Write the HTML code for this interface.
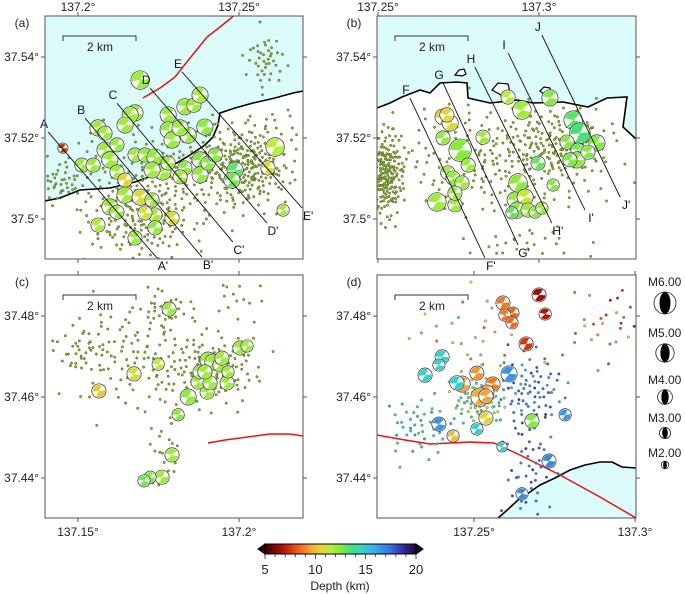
<!DOCTYPE html>
<html><head><meta charset="utf-8">
<style>
html,body{margin:0;padding:0;background:#fff;}
svg{display:block;font-family:"Liberation Sans",sans-serif;}
</style></head>
<body>
<svg id="fig" width="685" height="594" viewBox="0 0 685 594" xmlns="http://www.w3.org/2000/svg">
</svg>
<script>
// ---------- DATA ----------
// beachballs: [lon, lat, magnitude, depthKm]
const ballsA = [
 [137.2193,37.5343,4.4,12.0],[137.1953,37.5175,2.3,7.5],
 [137.2177,37.5262,3.8,12.0],[137.2162,37.5257,3.8,12.0],[137.2146,37.5232,3.8,12.0],
 [137.2332,37.5277,3.8,12.0],[137.2360,37.5281,3.3,12.0],[137.2379,37.5306,3.8,11.8],
 [137.2280,37.5257,3.8,12.0],[137.2280,37.5220,3.8,12.2],[137.2394,37.5227,3.8,12.3],
 [137.2292,37.5195,3.8,12.0],[137.2342,37.5207,3.8,12.0],[137.2317,37.5225,3.8,12.0],
 [137.2062,37.5225,3.8,12.0],[137.2084,37.5212,3.3,12.0],[137.2084,37.5170,3.8,12.0],
 [137.2099,37.5146,3.8,12.0],[137.2121,37.5183,3.3,12.2],[137.2177,37.5158,3.3,12.0],
 [137.2208,37.5158,3.3,12.0],[137.2239,37.5153,3.8,12.2],[137.2264,37.5116,3.8,12.0],
 [137.2230,37.5121,3.8,12.0],[137.2280,37.5138,3.3,12.0],[137.2332,37.5126,3.3,12.3],
 [137.2317,37.5104,3.3,12.0],[137.2379,37.5146,3.8,12.5],[137.2379,37.5109,3.8,12.2],
 [137.2404,37.5138,3.3,12.4],[137.2488,37.5121,3.8,13.2],[137.2478,37.5096,3.8,12.8],
 [137.2426,37.5158,3.3,12.5],[137.2612,37.5178,4.4,11.5],[137.2590,37.5126,3.3,11.0],
 [137.2637,37.5022,2.8,12.0],[137.2012,37.5133,3.3,12.0],[137.2047,37.5133,3.3,12.0],
 [137.2121,37.5116,3.3,12.0],[137.2146,37.5096,3.3,10.5],[137.2146,37.5059,3.8,12.0],
 [137.2193,37.5054,3.8,10.8],[137.2230,37.5047,3.3,12.0],[137.2239,37.5010,3.3,12.0],
 [137.2099,37.5030,3.8,12.0],[137.2121,37.5017,3.3,12.0],[137.2208,37.5015,3.3,11.0],
 [137.2292,37.5002,3.3,10.8],[137.2239,37.4978,3.3,12.2],[137.2062,37.4985,3.3,11.8],
 [137.2177,37.4953,3.3,12.0]
];
const ballsB = [
 [137.2702,37.5252,3.8,10.2],[137.2724,37.5237,3.8,10.6],[137.2714,37.5257,3.3,10.5],
 [137.2702,37.5200,3.3,12.2],[137.2755,37.5170,5.4,12.5],[137.2826,37.5202,3.3,12.0],
 [137.2780,37.5133,3.3,12.0],[137.2717,37.5114,3.3,12.0],[137.2733,37.5101,3.3,12.2],
 [137.2761,37.5089,3.3,12.0],[137.2683,37.5042,4.4,12.0],[137.2739,37.5035,3.3,12.0],
 [137.2739,37.5064,3.3,12.0],[137.2904,37.5301,3.3,11.5],[137.2947,37.5269,4.4,12.0],
 [137.2935,37.5089,4.4,12.3],[137.2926,37.5047,3.8,12.2],[137.2957,37.5054,3.8,11.2],
 [137.2932,37.5022,3.8,12.5],[137.2966,37.5022,3.3,12.0],[137.2988,37.5017,2.8,12.3],
 [137.3009,37.5027,2.8,12.0],[137.2916,37.5015,2.8,13.0],[137.3034,37.5299,3.8,12.5],
 [137.2997,37.5138,3.3,13.0],[137.3044,37.5084,2.8,12.5],[137.3106,37.5244,4.4,13.2],
 [137.3127,37.5212,4.9,13.4],[137.3087,37.5190,3.3,12.5],[137.3121,37.5170,3.3,12.8],
 [137.3180,37.5188,3.8,12.5],[137.3118,37.5146,3.8,12.3],[137.3152,37.5165,3.3,12.5],
 [137.3096,37.5146,3.3,12.6]
];
const ballsC = [
 [137.1783,37.4817,3.3,12.0],[137.1749,37.4681,2.8,11.5],[137.1674,37.4657,3.3,11.0],
 [137.1565,37.4615,3.3,10.3],[137.1811,37.4556,2.8,12.5],[137.1792,37.4457,3.3,12.0],
 [137.1761,37.4402,3.3,12.0],[137.1724,37.4402,2.8,12.5],[137.1705,37.4393,2.8,12.8],
 [137.1842,37.4600,3.8,12.3],[137.1901,37.4612,3.3,12.0],[137.1873,37.4637,3.3,12.0],
 [137.1910,37.4635,3.3,12.0],[137.1963,37.4635,3.3,12.0],[137.1879,37.4662,3.3,12.2],
 [137.1904,37.4691,3.8,12.0],[137.1919,37.4686,3.8,12.0],[137.1941,37.4679,3.3,12.0],
 [137.1947,37.4696,3.3,12.0],[137.1966,37.4662,2.8,12.0],[137.2003,37.4721,3.3,12.0],
 [137.2025,37.4726,2.8,12.0],[137.1894,37.4662,3.3,12.0]
];
const ballsD = [
 [137.2590,37.4832,3.3,8.8],[137.2621,37.4807,2.8,8.5],[137.2596,37.4802,2.8,8.8],
 [137.2618,37.4783,2.8,8.5],[137.2702,37.4852,3.3,6.5],[137.2721,37.4805,2.8,6.8],
 [137.2662,37.4731,3.3,7.5],[137.2401,37.4699,3.3,14.6],[137.2391,37.4679,2.8,14.8],
 [137.2348,37.4654,3.3,14.6],[137.2509,37.4659,3.3,9.2],[137.2463,37.4632,3.8,9.5],
 [137.2447,37.4635,3.3,14.8],[137.2609,37.4657,3.8,16.5],[137.2559,37.4632,3.3,8.8],
 [137.2540,37.4612,3.3,9.5],[137.2519,37.4600,4.4,9.6],[137.2537,37.4602,3.3,9.5],
 [137.2537,37.4548,3.3,10.5],[137.2509,37.4521,2.8,14.8],[137.2391,37.4533,3.3,16.5],
 [137.2435,37.4504,2.8,10.0],[137.2587,37.4477,2.3,14.8],[137.2680,37.4541,3.3,12.5],
 [137.2783,37.4556,2.8,16.5],[137.2733,37.4442,3.3,16.8],[137.2649,37.4361,2.8,16.8]
];
// dot clusters: [lonCenter, latCenter, count, sdLon, sdLat, depthCenter, depthSpread]
const dotsA = [
 [137.2286,37.5110,260,0.018,0.0060,11.8,1],[137.2519,37.5130,170,0.006,0.0045,12.3,1],
 [137.2581,37.5393,40,0.003,0.0035,11.5,1],[137.2193,37.4985,130,0.009,0.0040,11.5,1],
 [137.1944,37.5090,30,0.003,0.0025,12,1],[137.2600,37.5180,60,0.010,0.0060,11.8,1]
];
const dotsB = [
 [137.2522,37.5109,200,0.003,0.0055,11.5,1],[137.2879,37.5150,250,0.018,0.0065,12,1],
 [137.3065,37.5185,110,0.007,0.0045,12.3,1],[137.2950,37.4940,25,0.010,0.0020,10.5,1]
];
const dotsC = [
 [137.1910,37.4667,130,0.008,0.0045,12,0.8],[137.1662,37.4704,100,0.010,0.0070,12,0.8],
 [137.1506,37.4716,30,0.004,0.0030,12,0.8],[137.1770,37.4815,30,0.004,0.0030,12,0.8],
 [137.1770,37.4469,20,0.003,0.0050,12,0.8],[137.1988,37.4840,15,0.005,0.0030,11.5,0.8]
];
const dotsD = [
 [137.2519,37.4593,80,0.004,0.0030,13,3],[137.2674,37.4617,80,0.006,0.0050,17,1.5],
 [137.2332,37.4526,50,0.006,0.0040,15,1.5],[137.2674,37.4429,50,0.004,0.0080,17.5,1],
 [137.2891,37.4765,20,0.006,0.0050,9,1.5],[137.2488,37.4741,30,0.010,0.0060,11,3],
 [137.2950,37.4830,8,0.004,0.0030,7,1]
];
// profile lines: [label, lonStart, latStart, lonEnd, latEnd]
const profA = [
 ["A",137.1907,37.5215,137.2245,37.4904],["B",137.2022,37.5249,137.2385,37.4906],
 ["C",137.2121,37.5286,137.2481,37.4943],["D",137.2224,37.5323,137.2587,37.4990],
 ["E",137.2323,37.5363,137.2696,37.5027]
];
const profB = [
 ["F",137.2599,37.5299,137.2832,37.4904],["G",137.2702,37.5336,137.2935,37.4936],
 ["H",137.2801,37.5375,137.3040,37.4990],["I",137.2904,37.5410,137.3143,37.5022],
 ["J",137.3009,37.5454,137.3252,37.5054]
];
const legendMags = [6,5,4,3,2];
const cbTicks = [5,10,15,20];

// ---------- SETUP ----------
const NS="http://www.w3.org/2000/svg";
const svg=document.getElementById('fig');
function mk(tag,attrs,parent){const e=document.createElementNS(NS,tag);for(const k in attrs)e.setAttribute(k,attrs[k]);(parent||svg).appendChild(e);return e;}

const stops=[[5,'#3c0000'],[6.5,'#a00c00'],[8,'#ec4a10'],[9.5,'#f8a438'],[10.5,'#e8d434'],[11.5,'#b8ee3c'],[12.5,'#84ec3c'],[13.5,'#44e07c'],[14.7,'#30d4cc'],[16,'#38aaf0'],[17.5,'#3a6ae0'],[19,'#30208a'],[20,'#1e0a30']];
function hex(c){return [parseInt(c.substr(1,2),16),parseInt(c.substr(3,2),16),parseInt(c.substr(5,2),16)];}
function depthColor(d){
 if(d<=stops[0][0])return stops[0][1];
 for(let i=1;i<stops.length;i++){ if(d<=stops[i][0]){const a=hex(stops[i-1][1]),b=hex(stops[i][1]);const t=(d-stops[i-1][0])/(stops[i][0]-stops[i-1][0]);
   return 'rgb('+a.map((v,j)=>Math.round(v+(b[j]-v)*t)).join(',')+')';}}
 return stops[stops.length-1][1];
}
function halton(i,b){let f=1,r=0;while(i>0){f/=b;r+=f*(i%b);i=Math.floor(i/b);}return r;}
function magR(m){return 1.95*m-0.1;}

const panels=[
 {id:'a',x0:45,x1:303,y0:16,y1:259,lonRef:137.2,xRef:78,latRef:37.5,yRef:219},
 {id:'b',x0:377,x1:636,y0:16,y1:259,lonRef:137.25,xRef:378,latRef:37.5,yRef:219},
 {id:'c',x0:45,x1:303,y0:275,y1:518,lonRef:137.15,xRef:78,latRef:37.48,yRef:316},
 {id:'d',x0:377,x1:636,y0:275,y1:518,lonRef:137.25,xRef:474,latRef:37.48,yRef:316}
];
panels.forEach(p=>{p.X=lon=>p.xRef+(lon-p.lonRef)*3220;p.Y=lat=>p.yRef-(lat-p.latRef)*4050;});
const [PA,PB,PC,PD]=panels;

const defs=mk('defs',{});
panels.forEach(p=>{const cp=mk('clipPath',{id:'clip-'+p.id},defs);mk('rect',{x:p.x0,y:p.y0,width:p.x1-p.x0,height:p.y1-p.y0},cp);});

const G={};
panels.forEach(p=>{
 const g=mk('g',{'clip-path':'url(#clip-'+p.id+')'});
 
 
 G[p.id]=g;
});

const SEA='#dcfbfb';
function sea(g,pts,name){const e=mk('polygon',{points:pts,fill:SEA,stroke:'none'},g);}
function coast(g,pts,name){const e=mk('polyline',{points:pts,fill:'none',stroke:'#000','stroke-width':1.6},g);}
const coastA='45,201 60,198 80,190 110,188 135,182 160,173 187,157 205,145 213,137 218,125 220,113 235,108 253,103 275,98 293,93 303,91';
sea(G.a,'45,16 303,16 '+coastA.split(' ').reverse().join(' '),'sea-area-a');
coast(G.a,coastA,'coastline-a');
const coastB='377,108 390,103 402,97 420,90 430,93 440,83 457,82 467,83 468,98 490,103 517,100 533,103 563,102 588,107 607,98 627,97 623,127 636,139';
sea(G.b,'377,16 636,16 '+coastB.split(' ').reverse().join(' '),'sea-area-b');
coast(G.b,coastB,'coastline-b');
mk('path',{d:'M455,75 l4,-5 l5,-1 l2,5 l-4,2 z',fill:'#fff',stroke:'#000','stroke-width':1.2},G.b);
mk('path',{d:'M492,90 l6,-7 l10,1 l2,8 l-9,3 z',fill:'#fff',stroke:'#000','stroke-width':1.2},G.b);
mk('path',{d:'M540,91 l4,-4 l6,1 l1,5 l-6,2 z',fill:'#fff',stroke:'#000','stroke-width':1.2},G.b);
const coastD='498,518 505,512 518,500 530,492 540,485 555,478 570,470 585,465 600,462 612,462 622,467 636,468';
sea(G.d,coastD+' 636,518','sea-area-d');
coast(G.d,coastD,'coastline-d');

function fault(g,pts,name){const e=mk('polyline',{points:pts,fill:'none',stroke:'#f01010','stroke-width':1.5},g);}
fault(G.a,'143,98 160,88 175,77 190,58 207,37 220,27 236,14','fault-line-a');
fault(G.c,'208,443 225,440 240,438 270,434 290,434 303,436','fault-line-c');
fault(G.d,'377,435 405,440 430,444 450,443 470,442 494,443 520,455 560,475 600,497 636,518','fault-line-d');

function drawDots(p,clusters,g,colored){
 let k=1;
 clusters.forEach((c,ci)=>{
  for(let i=0;i<c[2];i++,k++){
   const u=halton(k,2),v=halton(k,3),w=halton(k,5);
   const r=Math.sqrt(-2*Math.log(1-u*0.985)),th=2*Math.PI*v;
   const lon=c[0]+c[3]*r*Math.cos(th),lat=c[1]+c[4]*r*Math.sin(th);
   const dep=c[5]+(w-0.5)*2*c[6];
   const e=mk('circle',{cx:p.X(lon).toFixed(1),cy:p.Y(lat).toFixed(1),r:colored?1.3:1.2,fill:colored?depthColor(dep):'#8fb030',stroke:colored?'#555':'#4a5a20','stroke-width':colored?0.35:0.5},g);
   
   
  }
 });
}
drawDots(PA,dotsA,G.a,false);
drawDots(PB,dotsB,G.b,false);
drawDots(PC,dotsC,G.c,false);
drawDots(PD,dotsD,G.d,true);

function drawProfiles(p,list,g){
 list.forEach(pr=>{
  const x1=p.X(pr[1]),y1=p.Y(pr[2]),x2=p.X(pr[3]),y2=p.Y(pr[4]);
  const l=mk('line',{x1:x1,y1:y1,x2:x2,y2:y2,stroke:'#111','stroke-width':0.9},g);
  
  
  const t1=mk('text',{x:x1-4,y:y1-4,'font-size':12,'text-anchor':'middle',fill:'#111'});
  t1.textContent=pr[0];
  
  
  const t2=mk('text',{x:x2+6,y:y2+12,'font-size':12,'text-anchor':'middle',fill:'#111'});
  t2.textContent=pr[0]+"'";
  
  
 });
}

function ball(g,cx,cy,r,color,name,rot){
 const bg=mk('g',{},g);
 
 
 mk('circle',{cx:cx,cy:cy,r:r+0.8,fill:'#fff',stroke:'#333','stroke-width':0.7},bg);
 mk('circle',{cx:cx,cy:cy,r:r,fill:color},bg);
 const a=rot*Math.PI/180,w=28*Math.PI/180;
 [0,Math.PI].forEach(o=>{
  const s=a+o-w,e=a+o+w;
  mk('path',{d:`M${cx},${cy} L${cx+r*Math.cos(s)},${cy+r*Math.sin(s)} A${r},${r} 0 0 1 ${cx+r*Math.cos(e)},${cy+r*Math.sin(e)} Z`,fill:'#fff'},bg);
 });
}
function drawBalls(p,list,g){
 list.forEach((b,i)=>{
  ball(g,p.X(b[0]),p.Y(b[1]),magR(b[2]),depthColor(b[3]),'focal-mechanism',-35+(i%3)*10);
 });
}
drawBalls(PA,ballsA,G.a);
drawBalls(PB,ballsB,G.b);
drawBalls(PC,ballsC,G.c);
drawBalls(PD,ballsD,G.d);

drawProfiles(PA,profA,svg);
drawProfiles(PB,profB,svg);

function txt(x,y,s,anchor,size,name){const t=mk('text',{x:x,y:y,'font-size':size||12,'text-anchor':anchor||'middle',fill:'#222'});t.textContent=s;return t;}
const xt={a:[[137.2,'137.2°'],[137.25,'137.25°']],b:[[137.25,'137.25°'],[137.3,'137.3°']],c:[[137.15,'137.15°'],[137.2,'137.2°']],d:[[137.25,'137.25°'],[137.3,'137.3°']]};
const yt={a:[[37.54,'37.54°'],[37.52,'37.52°'],[37.5,'37.5°']],b:[[37.54,'37.54°'],[37.52,'37.52°'],[37.5,'37.5°']],c:[[37.48,'37.48°'],[37.46,'37.46°'],[37.44,'37.44°']],d:[[37.48,'37.48°'],[37.46,'37.46°'],[37.44,'37.44°']]};
panels.forEach(p=>{
 const f=mk('rect',{x:p.x0,y:p.y0,width:p.x1-p.x0,height:p.y1-p.y0,fill:'none',stroke:'#555','stroke-width':1});
 
 
 const top=(p.id==='a'||p.id==='b');
 xt[p.id].forEach(t=>{const x=p.X(t[0]);
  mk('line',{x1:x,y1:p.y0-4,x2:x,y2:p.y0,stroke:'#555'});mk('line',{x1:x,y1:p.y1,x2:x,y2:p.y1+4,stroke:'#555'});
  if(top)txt(x,p.y0-5,t[1],'middle',12,'x-tick-label');else txt(x,p.y1+18,t[1],'middle',12,'x-tick-label');});
 yt[p.id].forEach(t=>{const y=p.Y(t[0]);
  mk('line',{x1:p.x0-4,y1:y,x2:p.x0,y2:y,stroke:'#555'});mk('line',{x1:p.x1,y1:y,x2:p.x1+4,y2:y,stroke:'#555'});
  txt(p.x0-6,y+4,t[1],'end',12,'y-tick-label');});
 txt(p.x0-23,p.y0+11,'('+p.id+')','middle',12,'panel-label-'+p.id);
 const sx=p.x0+18,sy=p.y0+20;
 const sb=mk('path',{d:`M${sx},${sy+5} V${sy} H${sx+73} V${sy+5}`,fill:'none',stroke:'#333','stroke-width':1});
 
 
 txt(sx+37,sy+15,'2 km','middle',12,'scale-bar-label');
});

const legY={6:[282,303],5:[333,353],4:[380,397],3:[418,433],2:[453,465]};
legendMags.forEach(m=>{
 txt(648,legY[m][0]+4,'M'+m.toFixed(2),'start',12,'legend-label-m'+m);
 const r=1.8*m+0.2,cx=665,cy=legY[m][1];
 const g=mk('g',{});
 
 
 mk('circle',{cx:cx,cy:cy,r:r,fill:'#fff',stroke:'#222','stroke-width':0.8},g);
 mk('ellipse',{cx:cx,cy:cy,rx:r*0.5,ry:r,fill:'#000'},g);
});

const grad=mk('linearGradient',{id:'cbgrad',x1:0,x2:1,y1:0,y2:0},defs);
for(let d=5;d<=20;d+=0.5){mk('stop',{offset:((d-5)/15).toFixed(3),'stop-color':depthColor(d)},grad);}
const cbX=d=>265+(d-5)*(416-265)/15;
const cb=mk('rect',{x:265,y:544,width:151,height:10,fill:'url(#cbgrad)',stroke:'#000','stroke-width':1});


mk('polygon',{points:'265,544 258,549 265,554',fill:depthColor(5),stroke:'#000','stroke-width':1});
mk('polygon',{points:'416,544 423,549 416,554',fill:depthColor(20),stroke:'#000','stroke-width':1});
for(let d=5;d<=20;d++){mk('line',{x1:cbX(d),y1:554,x2:cbX(d),y2:d%5===0?559:557,stroke:'#000','stroke-width':0.7});}
cbTicks.forEach(d=>txt(cbX(d),574,String(d),'middle',13,'colorbar-tick-label'));
txt(340,590,'Depth (km)','middle',12,'colorbar-title');
</script>
</body></html>
